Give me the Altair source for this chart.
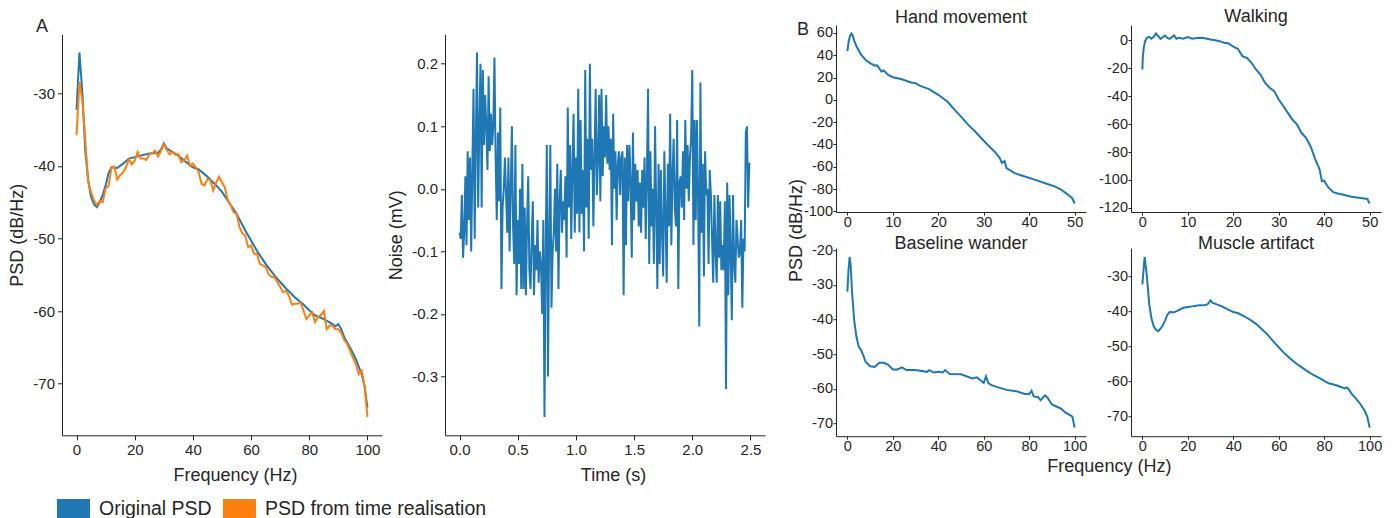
import altair as alt
import pandas as pd

FONT = "Liberation Sans"
BLUE = "#1f77b4"
ORANGE = "#ff7f0e"
INK = "#262626"

# ---------------- Panel A (left): muscle-artifact PSD ----------------
orig_freq = [0, 1, 2, 3, 4, 5, 6, 7, 8, 9, 10, 11, 12, 14, 16, 18, 20, 22, 25, 28, 29, 30, 31, 33, 35,
             38, 40, 42, 45, 48, 50, 52, 55, 58, 60, 62, 65, 68, 70, 72, 75, 78, 80, 82, 85, 88, 89,
             90, 91, 92, 94, 96, 98, 99, 100]
orig_psd = [-32.3, -24.4, -30.0, -37.9, -42.0, -44.3, -45.3, -45.7, -45.0, -44.0, -42.7, -41.0, -40.2,
            -40.3, -39.7, -39.0, -38.8, -38.6, -38.3, -38.2, -37.8, -36.9, -37.6, -38.1, -38.6, -39.6,
            -40.2, -40.5, -41.5, -42.7, -43.6, -44.8, -46.6, -48.9, -50.3, -51.7, -53.5, -55.1, -56.0,
            -56.9, -58.1, -59.1, -59.9, -60.6, -61.1, -61.8, -62.1, -61.8, -62.5, -63.6, -65.0, -66.6,
            -68.7, -70.3, -73.3]

real_freq = list(range(0, 101))
real_psd = [-35.8, -28.4, -31.0, -36.5, -42.2, -43.6, -44.8, -45.4, -44.8, -45.0, -43.1,
            -42.8, -40.2, -40.1, -41.9, -41.3, -40.9, -40.2, -39.1, -39.8, -39.3,
            -38.1, -39.0, -39.0, -39.2, -38.4, -38.3, -37.9, -38.7, -38.0, -37.0,
            -37.8, -38.4, -38.1, -38.5, -38.4, -39.5, -39.2, -38.6, -40.0, -39.7,
            -40.2, -40.9, -42.5, -42.7, -41.8, -42.0, -43.4, -42.3, -41.5, -42.3,
            -43.0, -44.8, -45.4, -46.4, -46.6, -48.4, -49.3, -49.6, -51.2, -51.0,
            -52.1, -52.1, -53.5, -53.7, -53.9, -54.9, -55.3, -55.3, -56.0, -56.7,
            -57.4, -57.2, -57.9, -59.1, -59.0, -59.0, -58.8, -59.9, -61.1, -60.6,
            -60.2, -61.5, -60.8, -60.6, -60.0, -62.5, -62.0, -62.0, -62.5, -62.5,
            -63.0, -64.0, -64.5, -65.4, -66.4, -67.3, -68.7, -68.2, -70.3, -74.6]

legend_names = ["Original PSD", "PSD from time realisation"]

# ---------------- Panel A (right): noise time realisation ----------------
noise_mv = [
    -0.07, -0.08, -0.01, -0.11, -0.07, 0.02, -0.09, 0.06, -0.05, 0.05,
    -0.10, 0.03, 0.16, -0.08, 0.08, 0.218, -0.03, 0.10, 0.20, -0.03,
    0.19, 0.07, 0.15, 0.10, 0.03, 0.18, 0.06, 0.12, 0.07, 0.10,
    0.21, 0.05, -0.05, 0.09, -0.02, 0.13, -0.16, -0.03, 0.00, 0.05,
    -0.01, -0.07, 0.05, -0.10, 0.00, 0.10, -0.06, -0.12, 0.07, -0.17,
    -0.05, -0.12, 0.00, -0.16, 0.04, -0.16, -0.03, -0.17, -0.06, 0.02,
    -0.13, -0.16, -0.08, -0.02, -0.17, -0.09, -0.13, -0.05, -0.15, -0.10,
    -0.12, -0.20, -0.05, -0.365, -0.10, 0.07, -0.30, -0.08, 0.07, -0.19,
    -0.10, -0.07, 0.00, -0.10, 0.04, -0.16, -0.02, 0.03, -0.07, -0.02,
    -0.05, 0.02, -0.11, 0.13, -0.03, 0.07, -0.08, 0.03, 0.12, -0.07,
    0.05, -0.04, 0.16, -0.07, 0.11, -0.04, 0.03, -0.10, 0.19, -0.03,
    0.08, -0.08, 0.20, 0.03, 0.08, -0.06, 0.05, 0.16, -0.01, 0.05,
    0.15, -0.02, 0.16, 0.02, 0.10, 0.05, 0.15, 0.04, 0.10, 0.03,
    0.08, -0.09, 0.12, 0.00, 0.06, -0.05, 0.04, 0.06, -0.01, 0.05,
    0.06, -0.17, 0.05, -0.09, 0.07, -0.02, 0.07, 0.01, -0.11, 0.09,
    -0.05, 0.04, -0.02, 0.03, -0.06, 0.01, -0.07, 0.03, -0.03, 0.05,
    -0.08, 0.02, 0.16, -0.12, 0.06, -0.06, 0.00, -0.12, 0.10, -0.03,
    -0.16, 0.04, -0.12, 0.03, -0.07, -0.14, 0.06, -0.04, -0.15, 0.04,
    -0.06, 0.12, -0.09, 0.02, 0.08, -0.03, -0.06, 0.11, -0.16, 0.01,
    0.02, -0.03, 0.06, -0.05, 0.11, 0.00, 0.07, -0.02, 0.05, 0.08,
    0.19, -0.09, 0.11, -0.05, 0.11, -0.01, -0.22, 0.17, -0.07, 0.04,
    -0.14, 0.06, -0.01, 0.00, -0.12, 0.03, -0.01, -0.08, -0.15, -0.01,
    -0.10, -0.15, -0.01, -0.11, -0.02, -0.13, -0.09, -0.13, -0.02, -0.32,
    0.01, -0.17, -0.01, -0.10, -0.21, -0.01, -0.12, -0.15, -0.05, -0.08,
    -0.11, -0.10, -0.05, -0.19, -0.08, -0.10, 0.09, 0.10, -0.03, 0.04, 0.04,
]
noise_time = [round(i * 0.01, 2) for i in range(len(noise_mv))]

# ---------------- Panel B: four noise PSDs ----------------
hand_freq = [0, 0.3, 0.6, 0.9, 1.2, 1.5, 2, 3, 4, 5, 6, 6.5, 7, 7.5, 8, 9, 10, 12, 14, 15, 16, 18, 20,
             22, 23.6, 25, 26.6, 28, 29.5, 31, 32.4, 33.5, 34, 34.6, 35, 36.8, 38, 41.2, 44, 45.6, 47,
             48.5, 49.5, 50]
hand_psd = [43.6, 52.5, 57.6, 59.5, 57.6, 53.0, 48.0, 40.6, 36.0, 33.0, 30.7, 31.0, 28.4, 25.4, 26.3,
            22.4, 20.3, 18.5, 15.5, 15.0, 12.5, 9.6, 4.5, -1.5, -9.0, -15.0, -22.5, -28.0, -34.5,
            -41.0, -46.5, -52.0, -56.5, -55.0, -61.3, -65.7, -67.5, -71.6, -75.5, -77.6, -80.5,
            -85.0, -88.5, -93.0]

walk_freq = [0, 0.1, 0.3, 0.6, 1, 1.5, 2, 2.5, 3, 3.5, 4, 5, 5.5, 6, 7, 7.5, 8, 9, 10,
             11, 12, 13, 14, 15, 16, 17, 18, 19, 20, 21, 22, 23, 24, 25, 26, 27, 28, 29, 30,
             31, 32, 33, 34, 35, 36, 37, 38, 39, 39.5, 40, 40.5, 41, 42, 43, 44, 46, 48, 49.5, 50]
walk_psd = [-20.8, -12.4, -5.3, -0.5, 1.9, 2.6, 1.2, 2.6, 5.0, 3.1, 1.2, 3.6, 1.9, 1.2, 3.6, 1.2,
            1.9, 1.2, 2.4,
            1.2, 1.7, 1.9, 1.4, 0.7, 0.2, -0.5, -1.7, -2.2, -4.5,
            -6.0, -11.2, -12.4, -16.0, -20.8, -24.4, -30.4, -33.9, -36.3, -42.3,
            -47.0, -51.9, -56.7, -60.2, -66.2, -69.8, -75.8, -84.9, -92.5,
            -100.9, -100.5, -103.3, -105.7, -108.8, -109.7, -110.5, -112.1, -113.0, -113.6, -116.9]

base_freq = [0, 0.5, 1, 1.5, 2, 3, 4, 5, 6, 7, 8, 10, 12, 14, 16, 18, 20, 22, 24, 26, 30, 35, 36, 38,
             40, 42, 43, 45, 50, 55, 57, 60, 61, 62, 63, 65, 70, 75, 78, 80, 81, 82, 84, 85, 87, 88,
             90, 92, 94, 96, 98, 99, 100]
base_psd = [-32.0, -25.8, -21.9, -24.8, -31.5, -40.2, -45.0, -47.9, -48.8, -50.3, -52.2, -53.5, -53.7,
            -52.5, -52.5, -53.1, -54.4, -54.4, -53.8, -54.6, -54.6, -55.1, -54.6, -55.3, -55.1, -55.3,
            -54.6, -55.7, -55.8, -57.0, -56.7, -58.3, -56.4, -58.3, -58.8, -59.3, -60.3, -60.8, -61.5,
            -61.5, -60.6, -62.2, -62.4, -63.3, -61.9, -62.5, -64.5, -65.1, -65.7, -66.9, -67.6, -68.0,
            -71.2]

# muscle artifact panel re-uses the original PSD above
muscle_freq = orig_freq
muscle_psd = orig_psd


def padded(vals, frac=0.05):
    lo, hi = min(vals), max(vals)
    pad = (hi - lo) * frac
    return [lo - pad, hi + pad]


def num_axis(values, fmt="d", title=None, **kw):
    return alt.Axis(values=values,
                    labelExpr=f"(datum.value < 0 ? '-' : '') + format(abs(datum.value), '{fmt}')",
                    title=title, **kw)


def qscale(domain):
    return alt.Scale(domain=domain, nice=False, zero=False)


def top_title(text, offset, **kw):
    return alt.TitleParams(text, baseline="alphabetic", offset=offset, fontSize=18,
                           fontWeight="normal", **kw)


# ---- A1 ----
df_orig = pd.DataFrame({"f": orig_freq, "p": orig_psd})
df_real = pd.DataFrame({"f": real_freq, "p": real_psd})
df_leg = pd.DataFrame({"f": [0, 0], "p": [-40, -40], "series": legend_names})

a1_ydom = padded(orig_psd + real_psd)
a1_x = alt.X("f:Q", scale=qscale([-5, 105]),
             axis=num_axis([0, 20, 40, 60, 80, 100], title="Frequency (Hz)", titleX=173))
a1_y = alt.Y("p:Q", scale=qscale(a1_ydom),
             axis=num_axis([-70, -60, -50, -40, -30], title="PSD (dB/Hz)"))

a1_blue = alt.Chart(df_orig).mark_line(color=BLUE, strokeWidth=2).encode(x=a1_x, y=a1_y)
a1_orange = alt.Chart(df_real).mark_line(color=ORANGE, strokeWidth=2).encode(x="f:Q", y="p:Q")
a1_legend = alt.Chart(df_leg).transform_filter("false").mark_point(filled=True, opacity=1).encode(
    x="f:Q", y="p:Q",
    color=alt.Color("series:N",
                    scale=alt.Scale(domain=legend_names, range=[BLUE, ORANGE]),
                    legend=alt.Legend(orient="none", legendX=-5, legendY=467, direction="horizontal",
                                      title=None, symbolType="M-1,-0.6H1V0.6H-1Z", symbolSize=1089,
                                      symbolStrokeWidth=0, symbolOpacity=1, labelFontSize=19.5,
                                      labelFont=FONT, labelColor=INK, labelOffset=9,
                                      labelLimit=400, columnPadding=11)))
a1 = alt.layer(a1_blue, a1_orange, a1_legend).properties(
    width=320, height=401,
    title=top_title("A", -16, anchor="start", frame="group", dx=-26))

# ---- A2 ----
df_noise = pd.DataFrame({"t": noise_time, "v": noise_mv})
a2 = alt.Chart(df_noise).mark_line(color=BLUE, strokeWidth=2).encode(
    x=alt.X("t:Q", scale=qscale(padded(noise_time)),
            axis=num_axis([0, 0.5, 1.0, 1.5, 2.0, 2.5], fmt=".1f", title="Time (s)", titleX=168)),
    y=alt.Y("v:Q", scale=qscale(padded(noise_mv)),
            axis=num_axis([-0.3, -0.2, -0.1, 0.0, 0.1, 0.2], fmt=".1f", title="Noise (mV)")),
).properties(width=320, height=401)


# ---- B panels ----
B_AXIS = dict(tickSize=3, labelPadding=0.5, labelFontSize=14.5)


def psd_panel(freq, psd, title, title_offset, xvals, xdom, yvals, w, h):
    df = pd.DataFrame({"f": freq, "p": psd})
    return alt.Chart(df).mark_line(color=BLUE, strokeWidth=2).encode(
        x=alt.X("f:Q", scale=qscale(xdom), axis=num_axis(xvals, **B_AXIS)),
        y=alt.Y("p:Q", scale=qscale(padded(psd)), axis=num_axis(yvals, **B_AXIS)),
    ).properties(width=w, height=h, title=top_title(title, title_offset, anchor="middle"))


b1_line = psd_panel(hand_freq, hand_psd, "Hand movement", -20.4, [0, 10, 20, 30, 40, 50],
                    [-2.5, 52.5], [-100, -80, -60, -40, -20, 0, 20, 40, 60], 250, 187)
b_letter = alt.Chart(pd.DataFrame({"lab": ["B"]})).mark_text(
    fontSize=18, align="left", baseline="alphabetic", color=INK, font=FONT
).encode(text="lab:N", x=alt.value(-39), y=alt.value(10))
b1 = alt.layer(b1_line, b_letter)
b2 = psd_panel(walk_freq, walk_psd, "Walking", -14.7, [0, 10, 20, 30, 40, 50], [-2.5, 52.5],
               [-120, -100, -80, -60, -40, -20, 0], 250, 187)
b3 = psd_panel(base_freq, base_psd, "Baseline wander", -24.7, [0, 20, 40, 60, 80, 100], [-5, 105],
               [-70, -60, -50, -40, -30, -20], 250, 188)
b4 = psd_panel(muscle_freq, muscle_psd, "Muscle artifact", -18.7, [0, 20, 40, 60, 80, 100],
               [-5, 105], [-70, -60, -50, -40, -30], 250, 188)

b_inner = alt.vconcat(
    alt.hconcat(b1, b2, spacing=45, bounds="flush"),
    alt.hconcat(b3, b4, spacing=45, bounds="flush"),
    spacing=5.2,
    title=alt.TitleParams("PSD (dB/Hz)", orient="left", anchor="middle", offset=-9,
                          fontSize=18, fontWeight="normal"))
b_block = alt.vconcat(
    b_inner,
    title=alt.TitleParams("Frequency (Hz)", orient="bottom", anchor="middle", offset=4.5, dx=24.5,
                          fontSize=18, fontWeight="normal"))

spacer = alt.Chart(pd.DataFrame({"v": [0]})).transform_filter("false").mark_point().properties(
    width=1, height=1)
a_pair = alt.vconcat(spacer, alt.hconcat(a1, a2, spacing=5), spacing=-7.7)

chart = alt.hconcat(a_pair, b_block, spacing=22).configure(
    font=FONT, padding={"left": 8, "top": 7, "right": 5, "bottom": 0}
).configure_view(strokeWidth=0).configure_axis(
    grid=False, domainColor=INK, domainWidth=1, tickColor=INK, tickWidth=1, tickSize=4.5,
    labelColor=INK, labelFont=FONT, labelFontSize=15, labelPadding=3, labelFlush=False,
    labelOverlap=False, titleColor=INK, titleFont=FONT, titleFontSize=18, titleFontWeight="normal"
).configure_axisX(titlePadding=9).configure_axisY(titlePadding=6).configure_title(
    font=FONT, color=INK, fontSize=18, fontWeight="normal")

chart.save("out.html", embed_options={"renderer": "svg", "actions": False})
